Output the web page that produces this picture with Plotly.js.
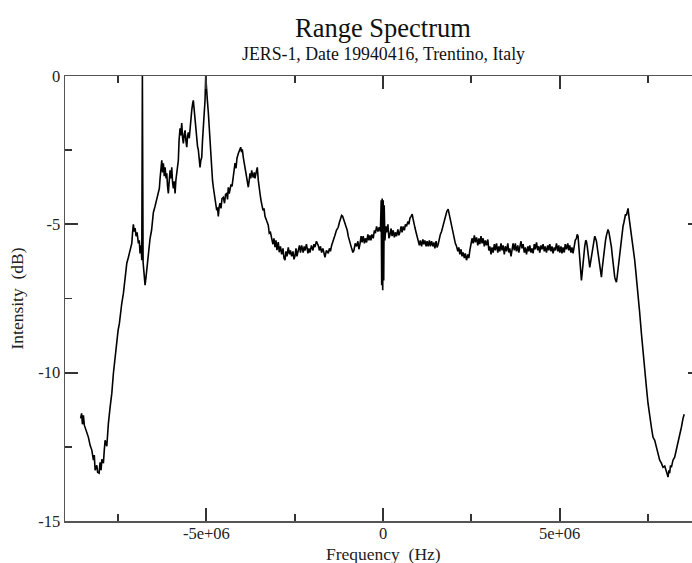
<!DOCTYPE html>
<html>
<head>
<meta charset="utf-8">
<script src="https://cdn.plot.ly/plotly-3.0.1.min.js"></script>
<style>
  html, body { margin: 0; padding: 0; background: #fff; overflow: hidden; }
  #chart { width: 720px; height: 563px; }
</style>
</head>
<body>
<div id="chart"></div>
<script>
// Frequency in MHz (axis labelled in Hz through tick text), intensity in dB
const freqMHz = [
-8.558,-8.530,-8.507,-8.479,-8.453,-8.431,-8.388,-8.337,-8.289,-8.241,-8.196,-8.171,-8.148,-8.100,-8.077,-8.035,-8.006,-7.978,-7.958,-7.913,
-7.888,-7.865,-7.817,-7.794,-7.772,-7.724,-7.675,-7.630,-7.582,-7.534,-7.497,-7.461,-7.427,-7.393,-7.347,-7.299,-7.251,-7.206,-7.158,-7.110,
-7.087,-7.065,-7.040,-7.017,-6.988,-6.960,-6.923,-6.898,-6.875,-6.847,-6.827,-6.810,-6.790,-6.762,-6.734,-6.711,-6.686,-6.663,-6.640,-6.592,
-6.550,-6.499,-6.451,-6.403,-6.358,-6.330,-6.309,-6.281,-6.261,-6.239,-6.216,-6.190,-6.168,-6.139,-6.120,-6.097,-6.075,-6.049,-6.027,-5.999,
-5.979,-5.956,-5.933,-5.908,-5.885,-5.862,-5.837,-5.815,-5.792,-5.772,-5.744,-5.721,-5.696,-5.673,-5.650,-5.625,-5.602,-5.580,-5.554,-5.532,
-5.509,-5.483,-5.461,-5.438,-5.413,-5.390,-5.368,-5.342,-5.320,-5.292,-5.272,-5.249,-5.226,-5.201,-5.178,-5.155,-5.130,-5.108,-5.085,-5.059,
-5.037,-5.017,-4.994,-4.971,-4.944,-4.918,-4.895,-4.873,-4.847,-4.825,-4.802,-4.777,-4.754,-4.731,-4.706,-4.684,-4.661,-4.636,-4.613,-4.585,
-4.557,-4.519,-4.485,-4.457,-4.423,-4.400,-4.378,-4.352,-4.330,-4.301,-4.273,-4.236,-4.211,-4.188,-4.160,-4.132,-4.095,-4.061,-4.027,-4.004,
-3.982,-3.954,-3.928,-3.906,-3.877,-3.849,-3.812,-3.787,-3.764,-3.741,-3.716,-3.693,-3.671,-3.645,-3.623,-3.595,-3.558,-3.529,-3.504,-3.481,
-3.453,-3.433,-3.396,-3.368,-3.340,-3.298,-3.247,-3.219,-3.185,-3.151,-3.114,-3.086,-3.057,-3.029,-3.001,-2.964,-2.936,-2.902,-2.868,-2.831,
-2.803,-2.774,-2.746,-2.718,-2.681,-2.647,-2.619,-2.585,-2.548,-2.520,-2.492,-2.463,-2.435,-2.398,-2.364,-2.336,-2.302,-2.260,-2.232,-2.209,
-2.166,-2.124,-2.096,-2.067,-2.025,-1.982,-1.954,-1.926,-1.884,-1.833,-1.799,-1.771,-1.736,-1.700,-1.671,-1.643,-1.601,-1.550,-1.516,-1.488,
-1.454,-1.417,-1.360,-1.318,-1.267,-1.233,-1.199,-1.171,-1.143,-1.115,-1.078,-1.050,-1.012,-0.984,-0.956,-0.922,-0.888,-0.852,-0.823,-0.786,
-0.747,-0.710,-0.682,-0.653,-0.619,-0.591,-0.560,-0.526,-0.498,-0.464,-0.427,-0.399,-0.370,-0.342,-0.314,-0.277,-0.243,-0.215,-0.181,-0.144,
-0.107,-0.074,-0.051,-0.037,-0.023,-0.008,0.006,0.020,0.034,0.054,0.082,0.102,0.139,0.167,0.195,0.229,0.257,0.288,0.322,0.350,
0.385,0.421,0.450,0.478,0.512,0.540,0.571,0.605,0.634,0.667,0.704,0.732,0.761,0.795,0.826,0.854,0.880,0.902,0.930,0.959,
0.995,1.029,1.058,1.092,1.128,1.157,1.185,1.219,1.247,1.278,1.312,1.341,1.374,1.411,1.439,1.468,1.502,1.530,1.561,1.595,
1.623,1.657,1.694,1.722,1.751,1.779,1.807,1.844,1.872,1.912,1.948,1.985,2.019,2.047,2.081,2.118,2.146,2.175,2.209,2.237,
2.268,2.302,2.330,2.364,2.401,2.429,2.458,2.492,2.520,2.551,2.585,2.613,2.647,2.684,2.712,2.740,2.774,2.803,2.834,2.868,
2.896,2.930,2.967,2.995,3.023,3.058,3.086,3.117,3.151,3.180,3.213,3.250,3.278,3.306,3.340,3.369,3.399,3.434,3.462,3.496,
3.532,3.561,3.589,3.623,3.651,3.682,3.716,3.745,3.778,3.815,3.843,3.872,3.906,3.934,3.965,3.999,4.027,4.061,4.098,4.126,
4.154,4.189,4.217,4.248,4.282,4.310,4.344,4.381,4.409,4.437,4.471,4.500,4.531,4.565,4.593,4.627,4.664,4.692,4.720,4.754,
4.782,4.813,4.847,4.876,4.909,4.946,4.975,5.003,5.037,5.065,5.096,5.130,5.158,5.192,5.229,5.257,5.285,5.319,5.347,5.379,
5.412,5.441,5.475,5.497,5.520,5.545,5.568,5.591,5.616,5.639,5.661,5.687,5.709,5.738,5.757,5.780,5.803,5.828,5.851,5.873,
5.899,5.922,5.944,5.970,5.993,6.015,6.041,6.063,6.086,6.111,6.134,6.157,6.182,6.205,6.227,6.253,6.276,6.298,6.324,6.346,
6.369,6.395,6.417,6.440,6.465,6.488,6.510,6.536,6.558,6.581,6.606,6.629,6.652,6.677,6.700,6.723,6.748,6.770,6.793,6.819,
6.841,6.864,6.889,6.912,6.935,6.960,6.983,7.005,7.031,7.053,7.076,7.101,7.124,7.152,7.172,7.217,7.265,7.313,7.359,7.407,
7.455,7.500,7.548,7.596,7.642,7.690,7.738,7.783,7.831,7.879,7.925,7.973,8.021,8.043,8.066,8.091,8.114,8.137,8.162,8.207,
8.255,8.303,8.349,8.397,8.445,8.491,8.525
];
const intensityDb = [
-11.54,-11.37,-11.74,-11.44,-11.77,-11.84,-11.98,-12.18,-12.45,-12.61,-12.95,-12.78,-13.29,-13.12,-13.36,-13.39,-13.02,-13.29,-12.92,-13.05,
-12.61,-12.28,-12.48,-12.01,-11.71,-11.17,-10.69,-10.02,-9.48,-8.91,-8.57,-8.34,-7.90,-7.66,-7.33,-6.78,-6.31,-6.11,-5.81,-5.64,
-5.27,-5.00,-5.24,-5.13,-5.40,-5.27,-5.64,-5.54,-5.98,-5.71,-6.21,0.00,-6.28,-6.72,-7.05,-6.82,-6.55,-6.14,-5.88,-5.47,
-5.20,-4.60,-4.39,-4.16,-3.99,-3.79,-3.45,-3.01,-2.84,-3.25,-2.94,-3.38,-3.08,-3.45,-3.28,-3.72,-3.96,-3.52,-3.18,-3.45,
-3.08,-3.58,-3.79,-3.55,-3.96,-3.52,-3.28,-3.01,-2.84,-2.17,-1.76,-2.00,-1.59,-2.07,-2.27,-1.97,-1.83,-2.17,-2.40,-2.03,
-1.90,-2.10,-1.73,-1.43,-1.16,-0.95,-0.82,-1.16,-1.49,-1.90,-2.17,-2.37,-2.50,-2.84,-3.08,-2.84,-2.74,-2.17,-1.73,-1.22,
-0.82,0.00,-0.55,-0.82,-1.22,-1.76,-2.27,-2.74,-3.18,-3.52,-3.75,-3.95,-4.09,-4.36,-4.53,-4.43,-4.73,-4.40,-4.29,-4.46,
-4.13,-4.09,-4.29,-3.99,-3.96,-4.16,-3.75,-3.96,-3.85,-3.65,-3.72,-3.42,-3.25,-2.94,-3.11,-2.77,-2.61,-2.51,-2.40,-2.57,
-2.47,-2.74,-2.91,-3.08,-3.35,-3.55,-3.75,-3.52,-3.28,-3.45,-3.18,-3.35,-3.42,-3.25,-3.45,-3.28,-3.08,-3.52,-3.85,-3.96,
-4.19,-4.29,-4.53,-4.46,-4.73,-4.86,-5.03,-5.30,-5.27,-5.47,-5.67,-5.47,-5.77,-5.54,-5.87,-5.60,-5.94,-5.74,-6.01,-5.81,
-6.14,-6.21,-5.91,-6.08,-5.78,-6.01,-5.88,-6.08,-5.91,-6.18,-6.08,-5.81,-6.08,-5.88,-5.71,-5.95,-5.71,-5.95,-5.74,-5.88,
-5.67,-5.98,-5.81,-5.95,-5.71,-5.88,-5.67,-5.77,-5.57,-5.71,-5.88,-5.74,-5.95,-5.81,-6.01,-6.11,-5.88,-5.98,-5.81,-5.91,
-5.71,-5.54,-5.37,-5.20,-5.10,-4.93,-4.80,-4.70,-4.73,-4.83,-4.93,-5.07,-5.20,-5.40,-5.54,-5.71,-5.81,-5.95,-5.88,-5.64,
-5.74,-5.57,-5.84,-5.67,-5.40,-5.61,-5.40,-5.64,-5.47,-5.61,-5.34,-5.54,-5.37,-5.54,-5.34,-5.47,-5.20,-5.30,-5.07,-5.24,
-5.10,-5.24,-4.19,-7.05,-4.13,-7.22,-4.19,-6.89,-4.36,-5.54,-5.07,-5.27,-5.00,-5.47,-5.37,-5.14,-5.40,-5.20,-5.44,-5.27,
-5.40,-5.17,-5.37,-5.27,-5.07,-5.27,-5.07,-5.20,-5.00,-5.07,-4.90,-5.00,-4.80,-4.73,-4.66,-4.83,-4.93,-5.10,-5.24,-5.40,
-5.54,-5.71,-5.54,-5.74,-5.51,-5.67,-5.54,-5.74,-5.57,-5.74,-5.54,-5.74,-5.57,-5.74,-5.61,-5.81,-5.57,-5.78,-5.67,-5.47,
-5.34,-5.24,-5.07,-4.90,-4.80,-4.66,-4.56,-4.49,-4.66,-4.86,-5.07,-5.27,-5.47,-5.64,-5.74,-5.91,-5.78,-6.01,-5.84,-6.08,
-5.95,-6.14,-5.98,-6.21,-6.01,-6.14,-5.88,-5.67,-5.47,-5.64,-5.37,-5.61,-5.44,-5.71,-5.47,-5.67,-5.40,-5.64,-5.47,-5.74,
-5.54,-5.71,-5.51,-5.88,-5.74,-6.01,-5.78,-5.95,-5.67,-5.88,-5.64,-5.95,-5.74,-5.91,-5.64,-5.88,-5.71,-6.01,-5.74,-5.91,
-5.64,-5.95,-5.81,-6.08,-5.78,-5.64,-5.88,-5.64,-5.91,-5.71,-5.95,-5.74,-5.57,-5.81,-5.67,-5.95,-5.78,-6.01,-5.74,-5.91,
-5.71,-5.95,-5.81,-5.98,-5.67,-5.84,-5.61,-5.88,-5.74,-5.95,-5.71,-5.84,-5.67,-5.91,-5.74,-5.95,-5.71,-5.88,-5.67,-5.91,
-5.74,-5.98,-5.78,-5.88,-5.64,-5.91,-5.71,-5.95,-5.74,-5.98,-5.78,-5.95,-5.67,-5.84,-5.64,-5.88,-5.71,-5.95,-5.78,-5.98,
-5.71,-5.54,-5.47,-5.34,-5.40,-5.81,-6.14,-6.55,-6.89,-6.62,-6.28,-5.94,-5.74,-5.54,-5.57,-5.74,-5.91,-6.21,-6.45,-6.28,
-6.08,-5.81,-5.64,-5.47,-5.40,-5.47,-5.57,-5.77,-5.98,-6.14,-6.35,-6.55,-6.78,-6.48,-6.21,-5.94,-5.74,-5.54,-5.37,-5.27,
-5.17,-5.27,-5.40,-5.57,-5.77,-6.04,-6.31,-6.55,-6.78,-6.88,-6.95,-6.75,-6.48,-6.21,-5.98,-5.74,-5.54,-5.27,-5.07,-4.93,
-4.83,-4.66,-4.70,-4.53,-4.46,-4.73,-4.93,-5.07,-5.27,-5.47,-5.67,-5.94,-6.21,-6.55,-6.78,-7.32,-7.99,-8.67,-9.35,-10.02,
-10.49,-11.03,-11.50,-11.84,-12.18,-12.28,-12.51,-12.72,-12.95,-13.05,-13.19,-13.15,-13.29,-13.42,-13.52,-13.29,-13.39,-13.12,-13.19,-12.95,
-12.85,-12.61,-12.35,-12.05,-11.84,-11.54,-11.40
];

const xTickVals = [-5, 0, 5];
const xTickText = ['-5e+06', '0', '5e+06'];
const xMinorVals = [-7.5, -2.5, 2.5, 7.5];
const yTickVals = [-15, -10, -5, 0];
const yTickText = ['-15', '-10', '-5', '0'];
const yMinorVals = [-12.5, -7.5, -2.5];

const titleText = 'Range Spectrum';
const subtitleText = 'JERS-1, Date 19940416, Trentino, Italy';
const xTitle = 'Frequency\u00a0\u00a0(Hz)';
const yTitle = 'Intensity\u00a0\u00a0(dB)';

const serif = 'Liberation Serif, Times New Roman, serif';
const axisColor = '#555555';
const tickColor = '#333333';

const axisCommon = {
  showgrid: false,
  zeroline: false,
  showline: true,
  linecolor: axisColor,
  linewidth: 1.5,
  mirror: 'ticks',
  ticks: 'inside',
  ticklen: 13,
  tickwidth: 1.8,
  tickcolor: tickColor,
  tickmode: 'array',
  tickfont: { family: serif, size: 16.5, color: '#222' }
};

const minorCommon = { ticks: 'inside', ticklen: 7, tickwidth: 1.8, tickcolor: tickColor, showgrid: false };

const trace = {
  x: freqMHz,
  y: intensityDb,
  type: 'scatter',
  mode: 'lines',
  line: { color: '#000', width: 1.6 },
  hoverinfo: 'skip'
};

const layout = {
  width: 720,
  height: 563,
  paper_bgcolor: '#fff',
  plot_bgcolor: '#fff',
  showlegend: false,
  margin: { l: 65, r: 19, t: 76, b: 42 },
  xaxis: Object.assign({}, axisCommon, {
    range: [-9, 9],
    tickvals: xTickVals,
    ticktext: xTickText,
    ticklabelstandoff: -3,
    minor: Object.assign({ tickvals: xMinorVals }, minorCommon),
    title: { text: '' }
  }),
  yaxis: Object.assign({}, axisCommon, {
    range: [-15, 0],
    tickvals: yTickVals,
    ticktext: yTickText,
    minor: Object.assign({ tickvals: yMinorVals }, minorCommon),
    title: { text: yTitle, font: { family: serif, size: 17.5, color: '#222' }, standoff: 10 }
  }),
  annotations: [
    { text: titleText, xref: 'paper', yref: 'paper', x: 0.5, y: 1.108, xanchor: 'center', yanchor: 'middle',
      showarrow: false, font: { family: serif, size: 26.5, color: '#111' } },
    { text: subtitleText, xref: 'paper', yref: 'paper', x: 0.5, y: 1.049, xanchor: 'center', yanchor: 'middle',
      showarrow: false, font: { family: serif, size: 17.8, color: '#111' } },
    { text: xTitle, xref: 'paper', yref: 'paper', x: 0.5, y: -0.074, xanchor: 'center', yanchor: 'middle',
      showarrow: false, font: { family: serif, size: 17.5, color: '#222' } }
  ]
};

Plotly.newPlot('chart', [trace], layout, { displayModeBar: false, staticPlot: true });
</script>
</body>
</html>
